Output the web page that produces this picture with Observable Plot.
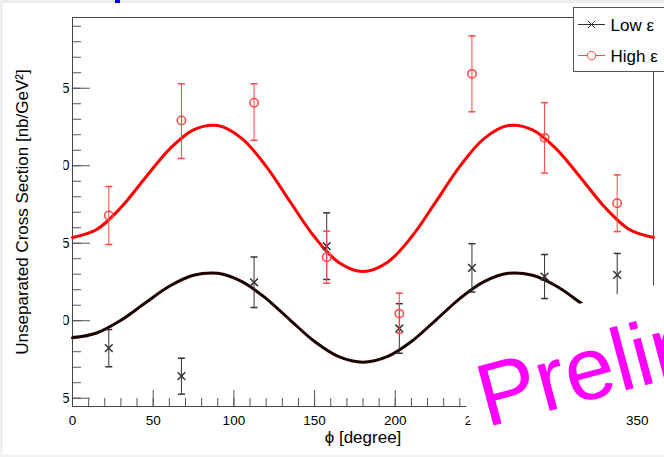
<!DOCTYPE html>
<html><head><meta charset="utf-8">
<script src="https://cdn.jsdelivr.net/npm/d3@7"></script>
<script src="https://cdn.jsdelivr.net/npm/@observablehq/plot@0.6"></script>
<style>
html,body{margin:0;padding:0;background:#fff;}
#chart{position:relative;width:664px;height:457px;overflow:hidden;background:#fff;}
</style></head><body><div id="chart"></div>
<script>
// ---- data ----
const phi = [22.5, 67.5, 112.5, 157.5, 202.5, 247.5, 292.5, 337.5];
const lowEps = [8.23, 6.42, 12.48, 14.81, 9.50, 13.41, 12.85, 12.96];
const lowErr = [1.20, 1.16, 1.63, 2.15, 1.60, 1.56, 1.42, 1.38];
const highEps = [16.79, 22.92, 24.07, 14.10, 10.46, 25.93, 21.80, 17.58];
const highErrUp = [1.87, 2.37, 1.22, 1.68, 1.32, 2.45, 2.27, 1.83];
const highErrDown = [1.87, 2.45, 2.43, 1.68, 1.25, 2.45, 2.27, 1.83];
const fitPhi = [0,15,30,45,60,75,90,105,120,135,150,165,180,195,210,225,240,255,270,285,300,315,330,345,360];
const fitLow = [8.90,9.21,10.03,11.14,12.22,12.93,13.06,12.52,11.43,10.03,8.66,7.68,7.32,7.68,8.66,10.03,11.43,12.52,13.06,12.93,12.22,11.14,10.03,9.21,8.90];
const fitHigh = [15.37,15.89,17.30,19.21,21.06,22.32,22.59,21.75,19.96,17.65,15.40,13.76,13.17,13.76,15.40,17.65,19.96,21.75,22.59,22.32,21.06,19.21,17.30,15.89,15.37];
const xMajor = [0,50,100,150,200,250,300,350];
const xMinor = d3.range(0, 360, 10);
const yMajor = [5,10,15,20,25];
const yMinor = d3.range(5, 30, 1);
const seriesNames = ["Low ε", "High ε"];
const xTitle = "ϕ [degree]";
const yTitle = "Unseparated Cross Section [nb/GeV²]";
const watermark = "Preliminary";

// ---- build tables ----
const lowData = phi.map((p,i)=>({phi:p, v:lowEps[i], lo:lowEps[i]-lowErr[i], hi:lowEps[i]+lowErr[i]}));
const highData = phi.map((p,i)=>({phi:p, v:highEps[i], lo:highEps[i]-highErrDown[i], hi:highEps[i]+highErrUp[i]}));
const fitLowData = fitPhi.map((p,i)=>({phi:p, v:fitLow[i]}));
const fitHighData = fitPhi.map((p,i)=>({phi:p, v:fitHigh[i]}));

const W=664, H=457, mL=72, mR=11, mT=17, mB=51;
const fw = W-mL-mR, fh = H-mT-mB;
const cap = {draw(ctx, size){ const w = Math.sqrt(size/Math.PI); ctx.moveTo(-w,0); ctx.lineTo(w,0); }};
const font = "'Liberation Sans', Arial, Helvetica, sans-serif";
const redC = "#ff0000", redE = "#ff4545", blkE = "#333";

const plot = Plot.plot({
  width: W, height: H, marginLeft: mL, marginRight: mR, marginTop: mT, marginBottom: mB,
  style: {fontFamily: font, background: "transparent", color: "#000", overflow: "visible"},
  x: {domain: [0, 360]},
  y: {domain: [4.465, 29.565]},
  marks: [
    Plot.ruleX(xMinor, {x: d=>d, insetTop: fh-8, stroke: "#555"}),
    Plot.ruleX(xMajor, {x: d=>d, insetTop: fh-16, stroke: "#555"}),
    Plot.ruleY(yMinor, {y: d=>d, insetRight: fw-9, stroke: "#555"}),
    Plot.ruleY(yMajor, {y: d=>d, insetRight: fw-18, stroke: "#555"}),
    Plot.frame({stroke: "#444"}),
    Plot.axisX({ticks: xMajor, tickSize: 0, tickPadding: 9, fontSize: 13.5, label: null}),
    Plot.axisY({ticks: yMajor, tickSize: 0, tickPadding: 3, fontSize: 14, label: null}),
    Plot.text([xTitle], {frameAnchor: "bottom", dy: 36, fontSize: 17, textAnchor: "middle", ariaLabel: "xtitle"}),
    Plot.text([yTitle], {frameAnchor: "left", dx: -50, rotate: -90, fontSize: 17, textAnchor: "middle", ariaLabel: "ytitle"}),
    Plot.line(fitHighData, {x: "phi", y: "v", curve: "catmull-rom", stroke: redC, strokeWidth: 3}),
    Plot.line(fitLowData, {x: "phi", y: "v", curve: "catmull-rom", stroke: "#1c0000", strokeWidth: 3}),
    Plot.ruleX(lowData, {x: "phi", y1: "lo", y2: "hi", stroke: blkE}),
    Plot.dot(lowData, {x: "phi", y: "lo", symbol: cap, r: 3.5, stroke: blkE}),
    Plot.dot(lowData, {x: "phi", y: "hi", symbol: cap, r: 3.5, stroke: blkE}),
    Plot.dot(lowData, {x: "phi", y: "v", symbol: "times", r: 3.6, stroke: blkE, fill: "none"}),
    Plot.ruleX(highData, {x: "phi", y1: "lo", y2: "hi", stroke: redE}),
    Plot.dot(highData, {x: "phi", y: "lo", symbol: cap, r: 3.5, stroke: redE}),
    Plot.dot(highData, {x: "phi", y: "hi", symbol: cap, r: 3.5, stroke: redE}),
    Plot.dot(highData, {x: "phi", y: "v", symbol: "circle", r: 4.2, stroke: redE, fill: "none"})
  ]
});
plot.style.position = "absolute"; plot.style.left = "0"; plot.style.top = "0";
document.getElementById("chart").appendChild(plot);

const svg = d3.select(plot);
// clip y tick labels like the reference (only right edge of glyphs visible)
const defs = svg.insert("defs", ":first-child");
defs.append("clipPath").attr("id", "ylabclip").append("rect").attr("x", 66).attr("y", 0).attr("width", 10).attr("height", H);
svg.select('g[aria-label="y-axis tick label"]').attr("clip-path", "url(#ylabclip)");
// italic phi in x title
const xt = svg.select('g[aria-label="xtitle"] text');
xt.text(null);
xt.append("tspan").attr("font-style", "italic").text(xTitle.slice(0,1));
xt.append("tspan").text(xTitle.slice(1));

// window edges
svg.append("rect").attr("x",0).attr("y",0).attr("width",W).attr("height",3).attr("fill","#ececec");
svg.append("rect").attr("x",0).attr("y",0).attr("width",3).attr("height",H).attr("fill","#f0f0f0");
svg.append("rect").attr("x",0).attr("y",455).attr("width",W).attr("height",2).attr("fill","#f2f2f2");
svg.append("rect").attr("x",115).attr("y",0).attr("width",5).attr("height",3).attr("fill","#0000ff");

// white rotated pave behind watermark
svg.append("polygon").attr("points", "449,336.5 720,268.5 720,391 477.6,451.3").attr("fill", "#fff");
svg.append("text").attr("transform", "translate(486.5,427.6) rotate(-15)").attr("text-anchor", "start")
  .attr("font-family", font).attr("font-size", 89).attr("fill", "#ff00ff").text(watermark);

// legend
const lg = svg.append("g").attr("font-family", font).attr("text-anchor", "start");
lg.append("rect").attr("x",573.5).attr("y",7.5).attr("width",100).attr("height",64).attr("fill","#fff").attr("stroke","#555");
lg.append("line").attr("x1",578).attr("x2",605).attr("y1",24.5).attr("y2",24.5).attr("stroke",blkE);
lg.append("path").attr("d","M588,21 L595,28 M588,28 L595,21").attr("stroke",blkE);
lg.append("text").attr("x",610.5).attr("y",30.5).attr("font-size",17).text(seriesNames[0]);
lg.append("line").attr("x1",578).attr("x2",605).attr("y1",55.5).attr("y2",55.5).attr("stroke",redE);
lg.append("circle").attr("cx",591.5).attr("cy",55.5).attr("r",4.2).attr("fill","#fff").attr("stroke",redE);
lg.append("text").attr("x",610.5).attr("y",61.5).attr("font-size",17).text(seriesNames[1]);
</script></body></html>
